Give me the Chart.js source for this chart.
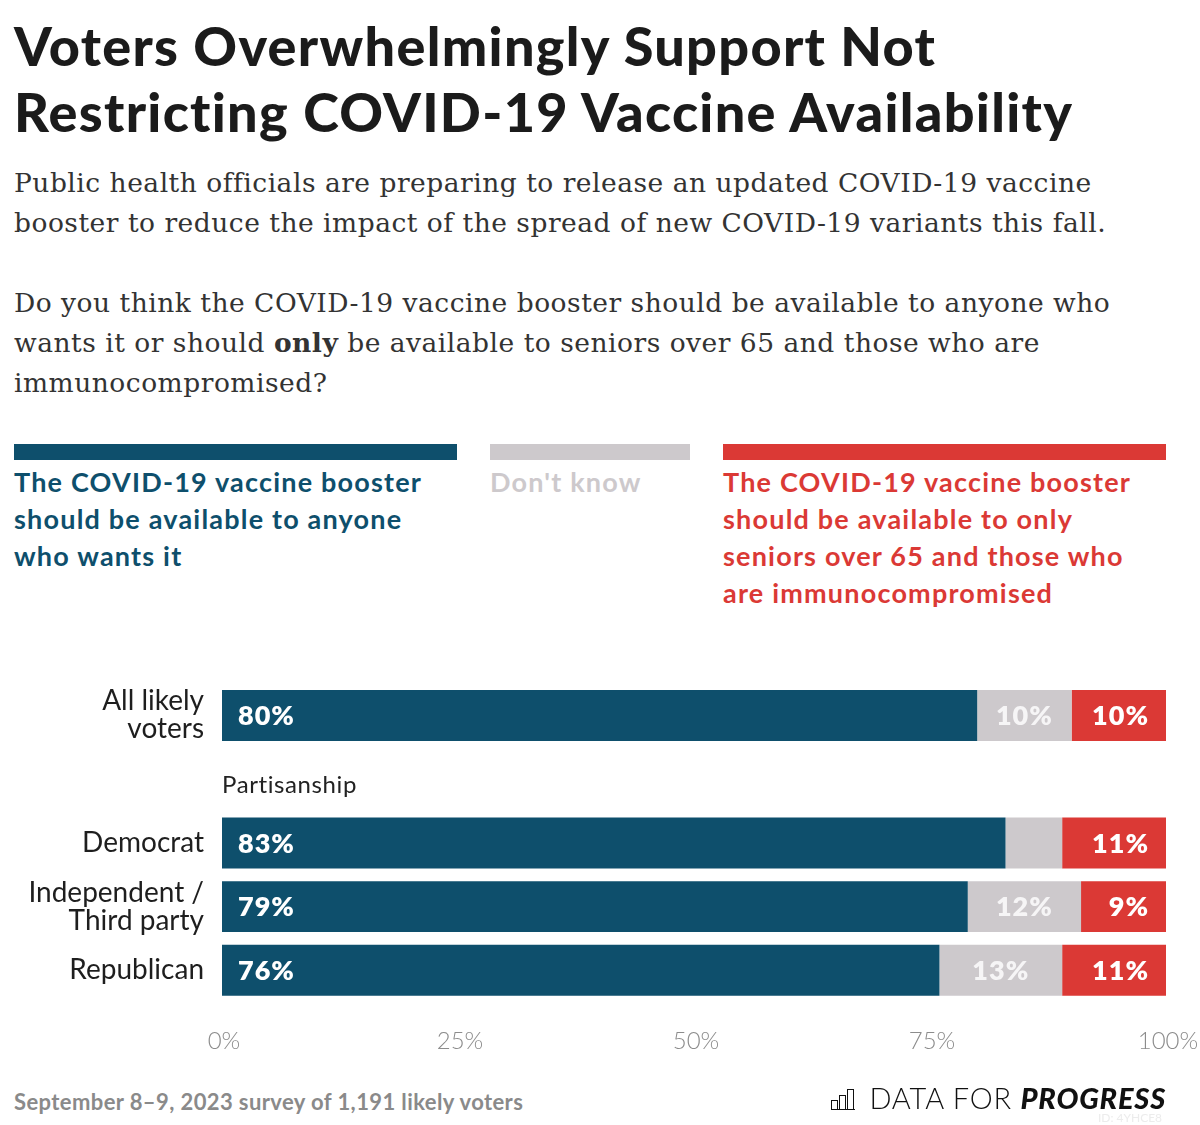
<!DOCTYPE html>
<html>
<head>
<meta charset="utf-8">
<script src="https://cdn.jsdelivr.net/npm/chart.js@4/dist/chart.umd.min.js"></script>
<style>
  html, body { margin: 0; padding: 0; background: #fff; }
  body { width: 1200px; height: 1125px; position: relative; overflow: hidden; font-family: Lato, "Open Sans", sans-serif; }
  .title { position: absolute; left: 14px; top: 13px; font-size: 54px; font-weight: 900; line-height: 66px; color: #1b1b1b; white-space: nowrap; letter-spacing: 1.3px; }
  .sub { position: absolute; left: 14px; top: 163px; font-family: "DejaVu Serif", serif; font-size: 26.5px; letter-spacing: 0.5px; line-height: 40px; color: #333; white-space: nowrap; }
  .legend-item { position: absolute; top: 444px; }
  .legend-item .swatch { height: 16px; }
  .legend-item .txt { margin-top: 3px; font-size: 27px; letter-spacing: 1.2px; font-weight: 700; line-height: 37px; white-space: nowrap; }
  .footer { position: absolute; left: 14px; top: 1088px; font-size: 22px; letter-spacing: 0.4px; font-weight: 700; color: #8a8a8a; }
  .logo { position: absolute; right: 34px; top: 1080px; font-size: 29px; font-weight: 300; color: #111; white-space: nowrap; letter-spacing: 0.8px; }
  .logo b { font-weight: 900; font-style: italic; }
  .logo .icon { display: inline-block; position: relative; width: 24px; height: 22px; margin-right: 14px; vertical-align: -1px; }
  .logo .icon span { position: absolute; bottom: 0; width: 5px; border: 1.5px solid #111; border-bottom: none; }
  .logo .icon::after { content: ""; position: absolute; left: 0; right: 0; bottom: 0; border-bottom: 1.5px solid #111; }
  .id { position: absolute; left: 1098px; top: 1110px; font-size: 12px; color: #ececec; }
  #wrap { position: absolute; left: 0; top: 660px; width: 1200px; height: 421px; }
</style>
</head>
<body>
<div class="title">Voters Overwhelmingly Support Not<br>Restricting COVID-19 Vaccine Availability</div>
<div class="sub">Public health officials are preparing to release an updated COVID-19 vaccine<br>booster to reduce the impact of the spread of new COVID-19 variants this fall.<br><br>Do you think the COVID-19 vaccine booster should be available to anyone who<br>wants it or should <b>only</b> be available to seniors over 65 and those who are<br>immunocompromised?</div>

<div class="legend-item" style="left:14px;width:443px">
  <div class="swatch" style="background:#0e4f6c"></div>
  <div class="txt" style="color:#0e4f6c">The COVID-19 vaccine booster<br>should be available to anyone<br>who wants it</div>
</div>
<div class="legend-item" style="left:490px;width:200px">
  <div class="swatch" style="background:#cdc9cc"></div>
  <div class="txt" style="color:#cdc9cc">Don't know</div>
</div>
<div class="legend-item" style="left:723px;width:443px">
  <div class="swatch" style="background:#db3935"></div>
  <div class="txt" style="color:#db3935">The COVID-19 vaccine booster<br>should be available to only<br>seniors over 65 and those who<br>are immunocompromised</div>
</div>

<div id="wrap"><canvas id="chart"></canvas></div>

<div class="footer">September 8–9, 2023 survey of 1,191 likely voters</div>
<div class="logo"><span class="icon"><span style="left:0;height:9px"></span><span style="left:8px;height:14px"></span><span style="left:16px;height:20px"></span></span>DATA FOR <b>PROGRESS</b></div>
<div class="id">ID: 4YHCE8</div>

<script>
// rows, with an empty row where the group heading sits
const categories = [["All likely", "voters"], "", "Democrat", ["Independent /", "Third party"], "Republican"];
const groupHeading = "Partisanship";
const groupRow = 1;

const anyone = [80, null, 83, 79, 76];
const dontKnow = [10, null, 6, 12, 13];
const onlySeniors = [10, null, 11, 9, 11];

const xTicks = [0, 25, 50, 75, 100];

const BLUE = "#0e4f6c";
const GREY = "#cdc9cc";
const RED = "#db3935";

// value labels inside the segments + the group heading
const barLabels = {
  id: "barLabels",
  afterDatasetsDraw(chart) {
    const ctx = chart.ctx;
    ctx.save();
    ctx.textBaseline = "middle";
    ctx.font = "800 27px Lato";
    ctx.letterSpacing = "1px";
    chart.data.datasets.forEach((ds, i) => {
      const meta = chart.getDatasetMeta(i);
      meta.data.forEach((bar, j) => {
        const v = ds.data[j];
        if (v == null || v < 8) return; // too thin to label
        const txt = v + "%";
        if (i === 0) {
          ctx.fillStyle = "#fff";
          ctx.textAlign = "left";
          ctx.fillText(txt, bar.base + 16, bar.y + 1);
        } else if (i === 1) {
          ctx.fillStyle = "#f6f5f6";
          ctx.textAlign = "center";
          ctx.fillText(txt, (bar.base + bar.x) / 2, bar.y + 1);
        } else {
          ctx.fillStyle = "#fff";
          ctx.textAlign = "right";
          ctx.fillText(txt, bar.x - 17, bar.y + 1);
        }
      });
    });
    ctx.font = "400 24px Lato";
    ctx.letterSpacing = "0.6px";
    ctx.fillStyle = "#222";
    ctx.textAlign = "left";
    ctx.fillText(groupHeading, chart.chartArea.left, chart.scales.y.getPixelForValue(groupRow) + 6);
    ctx.restore();
  }
};

new Chart(document.getElementById("chart"), {
  type: "bar",
  data: {
    labels: categories,
    datasets: [
      { label: "Anyone who wants it", data: anyone, backgroundColor: BLUE },
      { label: "Don't know", data: dontKnow, backgroundColor: GREY },
      { label: "Only seniors / immunocompromised", data: onlySeniors, backgroundColor: RED }
    ]
  },
  options: {
    indexAxis: "y",
    responsive: true,
    maintainAspectRatio: false,
    animation: false,
    datasets: { bar: { barPercentage: 1, categoryPercentage: 0.8, borderWidth: 0 } },
    layout: { padding: { top: 23.6, right: 34, left: 0, bottom: 0 } },
    plugins: { legend: { display: false }, tooltip: { enabled: false } },
    scales: {
      x: {
        stacked: true,
        min: 0,
        max: 100,
        afterBuildTicks: (scale) => { scale.ticks = xTicks.map(v => ({ value: v })); },
        afterFit: (scale) => { scale.paddingLeft = 0; scale.paddingRight = 0; },
        grid: { display: false, drawTicks: false },
        border: { display: false },
        ticks: {
          color: "#8c8c8c",
          font: { family: "Lato", size: 24, weight: 300 },
          padding: 25,
          labelOffset: 2,
          maxRotation: 0,
          callback: (v) => v + "%"
        }
      },
      y: {
        stacked: true,
        afterFit: (scale) => { scale.width = 222; scale.paddingTop = 0; scale.paddingBottom = 0; },
        grid: { display: false, drawTicks: false },
        border: { display: false },
        ticks: {
          autoSkip: false,
          color: "#1e1e1e",
          font: { family: "Lato", size: 28, weight: 400, lineHeight: 1.0 },
          padding: 18
        }
      }
    }
  },
  plugins: [barLabels]
});
</script>
</body>
</html>
